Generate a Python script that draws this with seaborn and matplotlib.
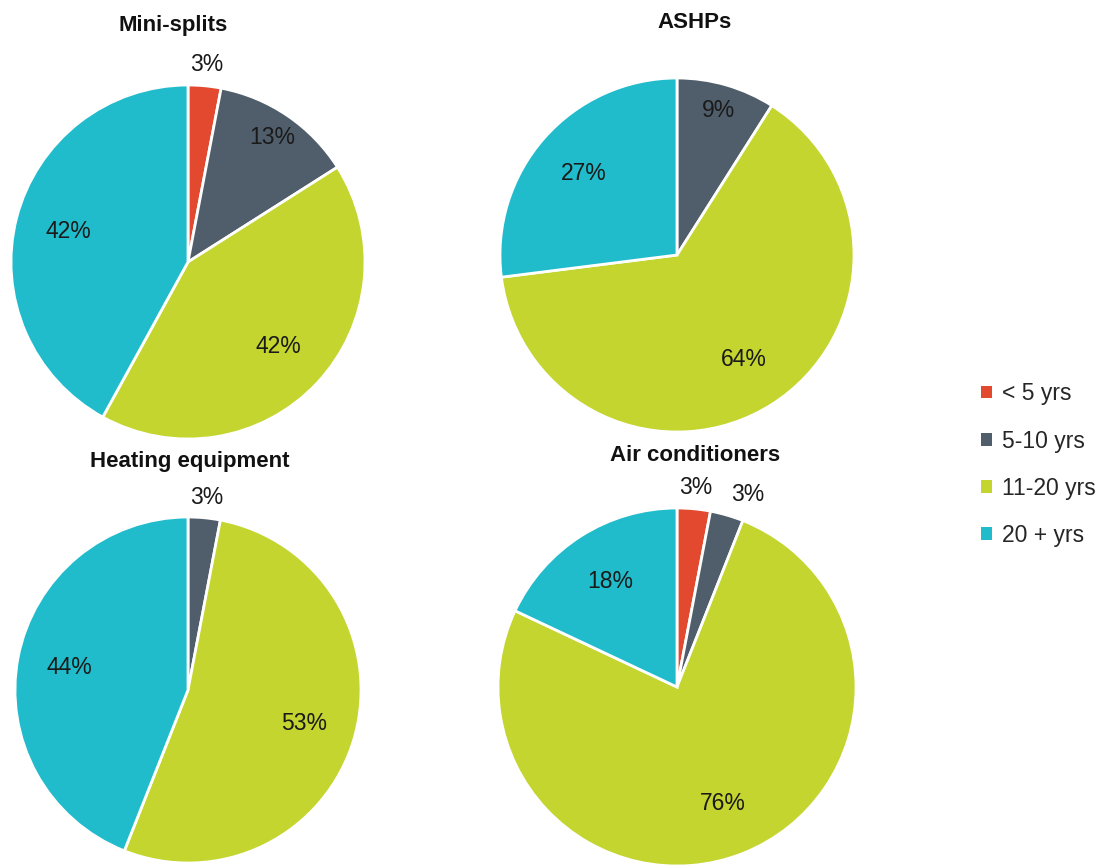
import numpy as np
import seaborn as sns
import matplotlib.pyplot as plt
from matplotlib.patches import Patch

sns.set_theme(style="white")
plt.rcParams['font.family'] = ['Liberation Sans', 'DejaVu Sans']

# data
age_groups = ['< 5 yrs', '5-10 yrs', '11-20 yrs', '20 + yrs']
titles = ['Mini-splits', 'ASHPs', 'Heating equipment', 'Air conditioners']
mini_splits = [3, 13, 42, 42]
ashps = [0, 9, 64, 27]
heating = [0, 3, 53, 44]
air_conditioners = [3, 3, 76, 18]

colors = sns.color_palette(['#E2492F', '#505E6C', '#C3D52E', '#20BCCB'])

W, H = 1116, 865
fig = plt.figure(figsize=(W / 100, H / 100), dpi=100)

# pixel layout: center x, center y, radius, title x, title y
layout = [
    (188, 262, 177, 173, 26),
    (677, 255, 177, 695, 23),
    (188, 690, 173, 190, 462),
    (677, 687, 179, 695, 456),
]
series = [mini_splits, ashps, heating, air_conditioners]

for vals, title, (cx, cy, r, tx, ty) in zip(series, titles, layout):
    ax = fig.add_axes([(cx - r) / W, (H - cy - r) / H, 2 * r / W, 2 * r / H])
    wedges, _ = ax.pie(vals, colors=colors, startangle=90, counterclock=False,
                       radius=1, wedgeprops=dict(edgecolor='white', linewidth=2))
    for w, v in zip(wedges, vals):
        if v == 0:
            continue
        ang = np.deg2rad((w.theta1 + w.theta2) / 2)
        d = 1.12 if v < 5 else (0.85 if v < 15 else 0.7)
        x, y = d * np.cos(ang), d * np.sin(ang)
        if v < 5 and np.cos(ang) > 0.2:
            x += 0.08  # nudge crowded outer labels apart
        ax.text(x, y, f'{v}%', ha='center', va='center',
                fontsize=16.5, color='#1a1a1a')
    ax.set_xlim(-1, 1)
    ax.set_ylim(-1, 1)
    ax.set_axis_off()
    fig.text(tx / W, 1 - ty / H, title, ha='center', va='center',
             fontsize=16, fontweight='bold', color='#111111')

handles = [Patch(facecolor=c, edgecolor='none') for c in colors]
fig.legend(handles, age_groups, loc='upper left', bbox_to_anchor=(970 / W, 1 - 371 / H),
           frameon=False, fontsize=16.5, handlelength=0.45, handleheight=0.45,
           handletextpad=0.45, labelspacing=1.05, borderpad=0)

fig.savefig('out.png', dpi=100)
